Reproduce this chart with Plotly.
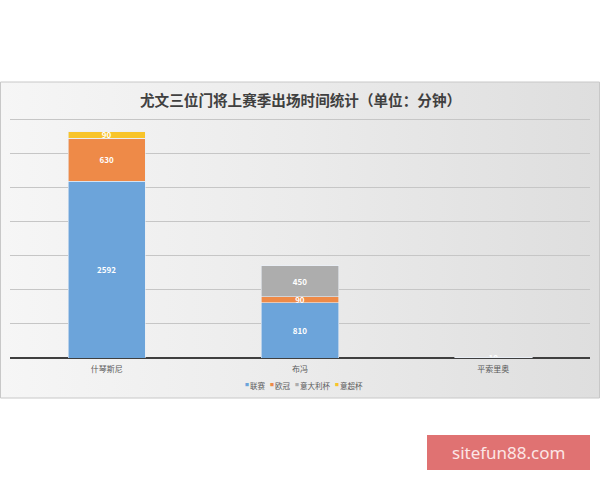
import plotly.graph_objects as go

# keepers and minutes per competition
players = ["什琴斯尼", "布冯", "平索里奥"]
serie_a = [2592, 810, 10]
ucl = [630, 90, 0]
coppa = [0, 450, 0]
supercoppa = [90, 0, 0]

series = [
    ("联赛", serie_a, "#6CA4DA"),
    ("欧冠", ucl, "#EE8A48"),
    ("意大利杯", coppa, "#ADADAD"),
    ("意超杯", supercoppa, "#F8C42A"),
]

W, H = 600, 480
FONT = "Noto Sans CJK SC"


def px_x(v):
    return v / W


def px_y(v):
    return 1 - v / H


fig = go.Figure()

# gradient background of the chart area (drawn on its own hidden axes)
fig.add_trace(
    go.Scatter(
        x=[0, 1, 1, 0, 0],
        y=[0, 0, 1, 1, 0],
        mode="lines",
        line=dict(width=0),
        fill="toself",
        fillgradient=dict(
            type="horizontal",
            colorscale=[[0, "#F6F6F6"], [0.5, "#EBEBEB"], [1, "#DEDEDE"]],
        ),
        hoverinfo="skip",
        showlegend=False,
        xaxis="x",
        yaxis="y",
    )
)

for name, vals, color in series:
    labels = [str(v) if v else "" for v in vals]
    fig.add_trace(
        go.Bar(
            name=name,
            x=players,
            y=vals,
            text=labels,
            textposition="inside",
            insidetextanchor="middle",
            textangle=0,
            textfont=dict(color="white", size=8, family=FONT, weight="bold"),
            marker=dict(color=color, line=dict(color="#EAEFF5", width=0.6)),
            width=0.4,
            showlegend=False,
            xaxis="x2",
            yaxis="y2",
        )
    )


def note(text, x, y, size, color, xanchor="center", family=FONT):
    return dict(
        text=text,
        x=px_x(x),
        y=px_y(y),
        xref="paper",
        yref="paper",
        xanchor=xanchor,
        yanchor="middle",
        showarrow=False,
        font=dict(size=size, color=color, family=family),
    )


# hand-made compact legend like the Excel one
legend_x = [243, 268, 293, 333]
annotations = []
for (name, vals, color), lx in zip(series, legend_x):
    annotations.append(note("■", lx, 385, 4, color, xanchor="left"))
    annotations.append(note(name, lx + 5, 385, 7.5, "#595959", xanchor="left"))

annotations += [
    note("<b>尤文三位门将上赛季出场时间统计（单位：分钟）</b>", 300, 99, 14.6, "#404040"),
    note("sitefun88.com", 508, 452, 17, "#FCE6E6", family="Noto Sans"),
]

fig.update_layout(
    width=W,
    height=H,
    margin=dict(l=0, r=0, t=0, b=0),
    paper_bgcolor="white",
    plot_bgcolor="rgba(0,0,0,0)",
    barmode="stack",
    uniformtext=dict(minsize=8, mode="show"),
    font=dict(family=FONT, color="#595959"),
    showlegend=False,
    xaxis=dict(domain=[0, 1], range=[0, 1], visible=False, fixedrange=True),
    yaxis=dict(domain=[px_y(398), px_y(82)], range=[0, 1], visible=False, fixedrange=True),
    xaxis2=dict(
        domain=[px_x(10), px_x(590)],
        anchor="y2",
        showgrid=False,
        ticks="",
        ticklabelstandoff=5,
        tickfont=dict(size=8, color="#595959"),
        showline=False,
    ),
    yaxis2=dict(
        domain=[px_y(358), px_y(118)],
        anchor="x2",
        range=[0, 3515],
        tick0=0,
        dtick=500,
        showticklabels=False,
        gridcolor="#C6C6C6",
        gridwidth=1,
        zeroline=True,
        zerolinecolor="#3F3F3F",
        zerolinewidth=1.5,
    ),
    annotations=annotations,
    shapes=[
        dict(
            type="rect",
            xref="paper",
            yref="paper",
            x0=px_x(0.5),
            x1=px_x(599.5),
            y0=px_y(398),
            y1=px_y(82),
            line=dict(color="#C8C8C8", width=1),
            fillcolor="rgba(0,0,0,0)",
        ),
        dict(
            type="rect",
            xref="paper",
            yref="paper",
            x0=px_x(427),
            x1=px_x(590),
            y0=px_y(470),
            y1=px_y(435),
            line=dict(width=0),
            fillcolor="#E07272",
            layer="below",
        ),
    ],
)

# the page has a default body margin; drop it so the figure sits at 0,0
fig.write_html(
    "out.html",
    config={"displayModeBar": False},
    post_script="document.body.style.margin='0';",
)
